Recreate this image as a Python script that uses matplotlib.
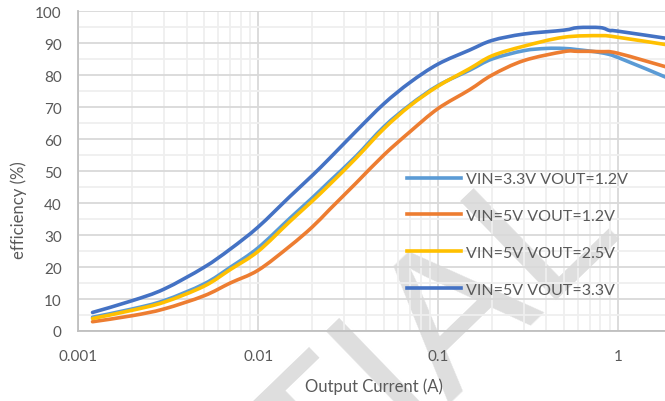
import matplotlib
matplotlib.use("Agg")
import numpy as np
import matplotlib.pyplot as plt
from matplotlib.path import Path
from matplotlib.patches import PathPatch
from matplotlib.lines import Line2D
from matplotlib.ticker import FixedLocator, NullFormatter, FuncFormatter

# ---- data ----
i_33_12 = [0.0012, 0.002, 0.003, 0.005, 0.007, 0.01, 0.015, 0.02, 0.025, 0.035, 0.05, 0.07, 0.1, 0.15, 0.2, 0.3, 0.4, 0.5, 0.6, 0.8, 1.0, 2.0]
eff_33_12 = [4.3, 6.9, 9.5, 14.7, 19.9, 26.0, 35.2, 41.6, 46.8, 54.6, 63.8, 70.7, 76.7, 81.5, 85.0, 87.6, 88.3, 88.3, 87.9, 87.0, 85.5, 78.5]

i_5_12 = [0.0012, 0.002, 0.003, 0.005, 0.007, 0.01, 0.015, 0.02, 0.025, 0.035, 0.05, 0.07, 0.1, 0.15, 0.2, 0.3, 0.5, 0.6, 0.8, 1.0, 2.0]
eff_5_12 = [2.9, 4.8, 6.9, 11.0, 15.0, 19.0, 26.5, 32.5, 38.0, 46.2, 55.0, 62.3, 69.5, 75.4, 80.0, 84.5, 87.3, 87.4, 87.3, 86.8, 82.0]

i_5_25 = [0.0012, 0.002, 0.003, 0.005, 0.007, 0.01, 0.015, 0.02, 0.025, 0.035, 0.05, 0.07, 0.1, 0.15, 0.2, 0.3, 0.5, 0.8, 1.0, 2.0]
eff_5_25 = [3.9, 6.5, 9.0, 14.0, 19.2, 24.9, 34.2, 40.6, 45.8, 54.0, 63.2, 70.4, 76.5, 82.0, 86.0, 89.0, 91.8, 92.3, 91.8, 89.2]

i_5_33 = [0.0012, 0.002, 0.003, 0.005, 0.007, 0.01, 0.015, 0.02, 0.025, 0.035, 0.05, 0.07, 0.1, 0.15, 0.2, 0.3, 0.5, 0.6, 0.8, 0.9, 1.0, 2.0]
eff_5_33 = [5.8, 9.5, 13.1, 19.9, 25.6, 32.5, 42.0, 48.6, 54.0, 62.4, 71.0, 77.7, 83.4, 87.8, 90.8, 92.8, 94.0, 94.8, 94.8, 93.9, 93.7, 91.2]

labels = ["VIN=3.3V VOUT=1.2V", "VIN=5V VOUT=1.2V", "VIN=5V VOUT=2.5V", "VIN=5V VOUT=3.3V"]
colors = ["#5B9BD5", "#ED7D31", "#FFC000", "#4472C4"]

x_major = [0.001, 0.01, 0.1, 1]
x_major_labels = ["0.001", "0.01", "0.1", "1"]
y_major = list(range(0, 101, 10))

watermark = "CONFIDENTIAL"

plt.rcParams['font.family'] = ['Lato', 'DejaVu Sans']
W, H = 665, 402
fig = plt.figure(figsize=(W / 100, H / 100), dpi=100)
left_px, right_px, top_px, bot_px = 78.3, 665, 12, 332
ax = fig.add_axes([left_px / W, 1 - bot_px / H, (right_px - left_px) / W, (bot_px - top_px) / H])

ax.set_xscale('log')
ax.set_xlim(0.001, 1.83)
ax.set_ylim(0, 100)


def smooth_path(xs, ys):
    """Excel-style smoothed line: cubic Bezier segments through the data points (in log-x space)."""
    lx = np.log10(np.asarray(xs, float))
    y = np.asarray(ys, float)
    sx, sy = 179.8, 3.2
    px, py = lx * sx, y * sy
    n = len(px)
    verts = [(px[0], py[0])]
    codes = [Path.MOVETO]
    for k in range(n - 1):
        p0 = np.array([px[max(k - 1, 0)], py[max(k - 1, 0)]])
        p1 = np.array([px[k], py[k]])
        p2 = np.array([px[k + 1], py[k + 1]])
        p3 = np.array([px[min(k + 2, n - 1)], py[min(k + 2, n - 1)]])
        c1 = p1 + (p2 - p0) / 6.0
        c2 = p2 - (p3 - p1) / 6.0
        verts += [tuple(c1), tuple(c2), tuple(p2)]
        codes += [Path.CURVE4] * 3
    verts = [(10 ** (vx / sx), vy / sy) for vx, vy in verts]
    return Path(verts, codes)


handles = []
for (xs, ys), lab, c in zip([(i_33_12, eff_33_12), (i_5_12, eff_5_12), (i_5_25, eff_5_25), (i_5_33, eff_5_33)],
                            labels, colors):
    patch = PathPatch(smooth_path(xs, ys), facecolor='none', edgecolor=c, lw=2.6,
                      capstyle='round', joinstyle='round', zorder=3)
    ax.add_patch(patch)
    handles.append(Line2D([], [], color=c, lw=2.6, label=lab))

ax.xaxis.set_major_locator(FixedLocator(x_major))
ax.xaxis.set_major_formatter(FuncFormatter(lambda v, p: x_major_labels[x_major.index(min(x_major, key=lambda m: abs(m - v)))]))
minor_x = [m * d for d in [0.001, 0.01, 0.1, 1] for m in range(2, 10)]
ax.xaxis.set_minor_locator(FixedLocator(minor_x))
ax.xaxis.set_minor_formatter(NullFormatter())
ax.yaxis.set_major_locator(FixedLocator(y_major))
ax.yaxis.set_minor_locator(FixedLocator(list(range(5, 100, 10))))

ax.grid(which='major', color='#d9d9d9', lw=1.3, zorder=0)
ax.grid(which='minor', color='#efefef', lw=1.3, zorder=0)
ax.set_axisbelow(True)

for s in ['top', 'right']:
    ax.spines[s].set_visible(False)
for s in ['left', 'bottom']:
    ax.spines[s].set_color('#bfbfbf')
    ax.spines[s].set_linewidth(1.3)

ax.tick_params(which='both', length=0, colors='#595959', labelsize=11)
ax.tick_params(axis='y', pad=12)
ax.tick_params(axis='x', pad=13)

# faint watermark (runs off the bottom of the picture, as in the reference)
ax.text(623 / W, 1 - 226 / H, watermark, transform=fig.transFigure, rotation=44, rotation_mode='anchor',
        ha='right', va='baseline', fontsize=144, color='#dedede', family='Liberation Sans',
        zorder=0.4, clip_on=False)

fig.text(374 / W, 1 - 387 / H, "Output Current (A)", ha='center', va='center', fontsize=12, color='#595959')
fig.text(19 / W, 1 - 210 / H, "efficiency (%)", ha='center', va='center', rotation=90, fontsize=12, color='#595959')

leg = ax.legend(handles=handles, loc='upper left', bbox_to_anchor=(407 / W, 1 - 173 / H), bbox_transform=fig.transFigure,
                frameon=False, fontsize=11.5, handlelength=3.4, handletextpad=0.3, labelspacing=1.42,
                borderpad=0, borderaxespad=0)
for t in leg.get_texts():
    t.set_color('#595959')

fig.savefig("out.png", dpi=100)
